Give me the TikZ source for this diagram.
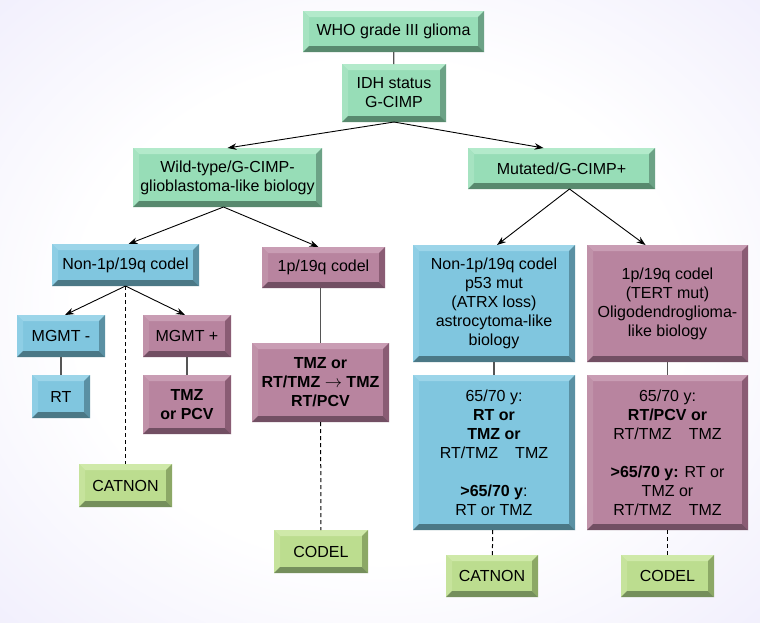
\documentclass[tikz,border=0pt]{standalone}
\usepackage{fontspec}
\setmainfont{Liberation Sans}
\usetikzlibrary{arrows.meta,calc}
% green
\definecolor{gf}{HTML}{97DDB7}\definecolor{gt}{HTML}{B3EACB}\definecolor{gl}{HTML}{A6E3C1}\definecolor{gr}{HTML}{6CA286}\definecolor{gb}{HTML}{58896E}
% blue
\definecolor{bf}{HTML}{80C6DF}\definecolor{bt}{HTML}{9CD5E9}\definecolor{bl}{HTML}{8ECEE5}\definecolor{br}{HTML}{5A90A3}\definecolor{bb}{HTML}{4B7886}
% purple
\definecolor{pf}{HTML}{B8849F}\definecolor{pt}{HTML}{C99DB4}\definecolor{pl}{HTML}{C092A9}\definecolor{pr}{HTML}{8A5C74}\definecolor{pb}{HTML}{724F63}
% light green
\definecolor{lf}{HTML}{BCDD8F}\definecolor{lt}{HTML}{CFE9A9}\definecolor{ll}{HTML}{C6E39C}\definecolor{lr}{HTML}{8CA866}\definecolor{lb}{HTML}{758F5C}
\definecolor{lav}{HTML}{E5E1FA}
\definecolor{linegray}{HTML}{555555}
\pgfdeclareradialshading{bgshade}{\pgfpoint{0bp}{0bp}}{color(0bp)=(white); color(20bp)=(white); color(50bp)=(lav); color(80bp)=(lav)}
\def\bw{6pt}
\newcommand\bevel[2]{%
  \fill[#2t] (#1.north west) -- (#1.north east) -- ([xshift=-\bw,yshift=-\bw]#1.north east) -- ([xshift=\bw,yshift=-\bw]#1.north west) -- cycle;
  \fill[#2l] (#1.north west) -- ([xshift=\bw,yshift=-\bw]#1.north west) -- ([xshift=\bw,yshift=\bw]#1.south west) -- (#1.south west) -- cycle;
  \fill[#2r] (#1.north east) -- ([xshift=-\bw,yshift=-\bw]#1.north east) -- ([xshift=-\bw,yshift=\bw]#1.south east) -- (#1.south east) -- cycle;
  \fill[#2b] (#1.south west) -- ([xshift=\bw,yshift=\bw]#1.south west) -- ([xshift=-\bw,yshift=\bw]#1.south east) -- (#1.south east) -- cycle;
}
\newcommand\bx[7]{%
  \node[box,fill=#2f,minimum width=#5pt,minimum height=#6pt] (#1) at (#3,#4) {#7};
  \bevel{#1}{#2}}
\tikzset{
  box/.style={inner sep=0pt,outer sep=0pt,align=center,text=black,font=\fontsize{16}{19}\selectfont},
  arr/.style={-{Stealth[length=9pt,width=6.5pt]},line width=0.9pt,black},
  vline/.style={line width=1.3pt,linegray},
  dline/.style={line width=1pt,black,dash pattern=on 4pt off 3pt},
}
\begin{document}
\begin{tikzpicture}[x=1pt,y=-1pt]
\useasboundingbox (0,0) rectangle (760,622);
\shade[shading=bgshade] (0,0) rectangle (760,622);
% boxes
\bx{who}{g}{393.5}{31.5}{181}{41}{WHO grade III glioma}
\bx{idh}{g}{394}{93}{104}{58}{IDH status\\G-CIMP}
\bx{wt}{g}{227.5}{177.5}{189}{59}{Wild-type/G-CIMP-\\glioblastoma-like biology}
\bx{mut}{g}{561.5}{168.5}{187}{41}{Mutated/G-CIMP+}
\bx{non}{b}{125.5}{265}{147}{42}{Non-1p/19q codel}
\bx{cod}{p}{323.5}{267.5}{123}{41}{1p/19q codel}
\bx{mgmtm}{b}{61}{336}{88}{42}{MGMT -}
\bx{mgmtp}{p}{187}{336}{88}{42}{MGMT +}
\bx{rt}{b}{61}{396.5}{58}{43}{RT}
\bx{tmzpcv}{p}{187}{404.5}{88}{59}{\textbf{TMZ}\\\textbf{or PCV}}
\bx{cat1}{l}{125.5}{485.5}{93}{43}{CATNON}
\bx{midtx}{p}{320.5}{382.5}{137}{79}{\textbf{TMZ or}\\\textbf{RT/TMZ $\rightarrow$ TMZ}\\\textbf{RT/PCV}}
\bx{cod2}{l}{321}{551.5}{94}{43}{CODEL}
\bx{rb1}{b}{494}{303.5}{162}{117}{Non-1p/19q codel\\p53 mut\\(ATRX loss)\\astrocytoma-like\\biology}
\bx{rp1}{p}{667.5}{303.5}{161}{117}{1p/19q codel\\(TERT mut)\\Oligodendroglioma-\\like biology}
\bx{rb2}{b}{494}{452.5}{162}{155}{65/70 y:\\\textbf{RT or}\\\textbf{TMZ or}\\RT/TMZ\hspace{17pt}TMZ\\[19pt]\textbf{>65/70 y}:\\RT or TMZ}
\bx{rp2}{p}{667.5}{452.5}{161}{155}{65/70 y:\\\textbf{RT/PCV or}\\RT/TMZ\hspace{17pt}TMZ\\[19pt]\textbf{>65/70 y:} RT or\\TMZ or\\RT/TMZ\hspace{17pt}TMZ}
\bx{cat2}{l}{492}{576}{92}{42}{CATNON}
\bx{cod3}{l}{667.5}{576}{93}{42}{CODEL}
% connectors
\draw[vline] (who) -- (idh);
\draw[arr] (idh.south) -- (wt.north);
\draw[arr] (idh.south) -- ($(mut.north)+(-18,0)$);
\draw[arr] ($(wt.south)+(-4,0)$) -- ($(non.north)+(3,0)$);
\draw[arr] ($(wt.south)+(-4,0)$) -- ($(cod.north)+(-5,0)$);
\draw[arr] ($(mut.south)+(8,0)$) -- ($(rb1.north)+(3,0)$);
\draw[arr] ($(mut.south)+(8,0)$) -- ($(rp1.north)+(-22,0)$);
\draw[arr] (non.south) -- ($(mgmtm.north)+(4,0)$);
\draw[arr] (non.south) -- ($(mgmtp.north)+(-2,0)$);
\draw[dline] (non.south) -- (cat1.north);
\draw[vline] (mgmtm) -- (rt);
\draw[vline] (mgmtp) -- (tmzpcv);
\draw[vline] (midtx.north) -- (midtx.north |- cod.south);
\draw[dline] (midtx) -- (cod2);
\draw[vline] (rb1) -- (rb2);
\draw[vline] (rp1) -- (rp2);
\draw[dline] (rb2) -- (cat2);
\draw[dline] (rp2) -- (cod3);
\end{tikzpicture}
\end{document}
